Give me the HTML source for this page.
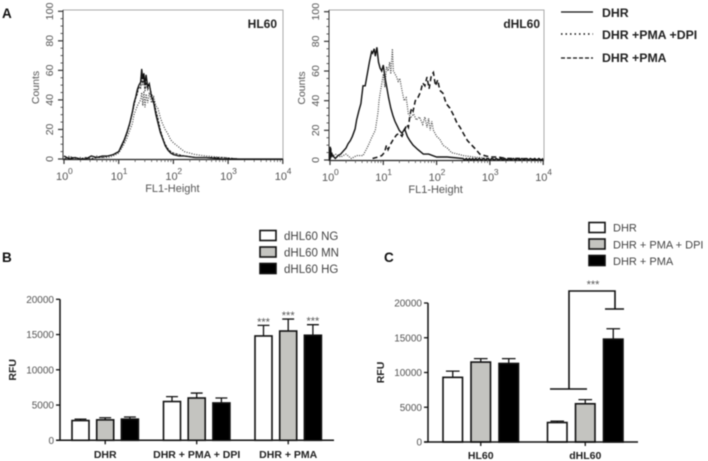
<!DOCTYPE html>
<html>
<head>
<meta charset="utf-8">
<style>
html,body{margin:0;padding:0;background:#fff;width:708px;height:461px;overflow:hidden}
svg{display:block;filter:blur(0.45px)}
text{font-family:"Liberation Sans",sans-serif}
.tick{font-size:10px;fill:#555}
.lab{font-size:10.5px;font-weight:bold;fill:#222}
.leg{font-size:11.5px;fill:#444}
.pan{font-size:13.5px;font-weight:bold;fill:#111}
</style>
</head>
<body>
<svg id="fig" width="708" height="461" viewBox="0 0 708 461" xmlns="http://www.w3.org/2000/svg">
<text class="pan" x="2" y="18">A</text>
<text class="pan" x="2" y="262">B</text>
<text class="pan" x="384" y="262">C</text>
<g>
<line x1="561" x2="593" y1="12" y2="12" stroke="#111" stroke-width="1.2"/>
<text x="602" y="17" font-size="12.3" font-weight="bold" fill="#222">DHR</text>
<line x1="561" x2="593" y1="34" y2="34" stroke="#111" stroke-width="1.4" stroke-dasharray="1.5 3"/>
<text x="602" y="39" font-size="12.3" font-weight="bold" fill="#222">DHR +PMA +DPI</text>
<line x1="561" x2="593" y1="58" y2="58" stroke="#111" stroke-width="1.2" stroke-dasharray="4 2"/>
<text x="602" y="62" font-size="12.3" font-weight="bold" fill="#222">DHR +PMA</text>
</g>
<g>
<rect x="260" y="230.5" width="16" height="10" fill="#fff" stroke="#111" stroke-width="1.6"/>
<text class="leg" x="284" y="240">dHL60 NG</text>
<rect x="260" y="247" width="16" height="10" fill="#c4c4c0" stroke="#111" stroke-width="1.6"/>
<text class="leg" x="284" y="256.500">dHL60 MN</text>
<rect x="260" y="263.500" width="16" height="10" fill="#000" stroke="#111" stroke-width="1.6"/>
<text class="leg" x="284" y="273">dHL60 HG</text>
</g>
<g>
<rect x="589" y="222.500" width="16" height="10" fill="#fff" stroke="#111" stroke-width="1.6"/>
<text x="613" y="231.500" font-size="11" fill="#444">DHR</text>
<rect x="589" y="239" width="16" height="10" fill="#c4c4c0" stroke="#111" stroke-width="1.6"/>
<text x="613" y="248.500" font-size="11" fill="#444">DHR + PMA + DPI</text>
<rect x="589" y="255.500" width="16" height="10" fill="#000" stroke="#111" stroke-width="1.6"/>
<text x="613" y="265" font-size="11" fill="#444">DHR + PMA</text>
</g>
<g>
<path d="M550 389H587M569 389V291H615V309M605 309H624" fill="none" stroke="#111" stroke-width="1.6"/>
<text x="593" y="288" font-size="11" fill="#555" text-anchor="middle">***</text>
</g>
<script>
var hl60Fl      = [0,0.1,0.2,0.3,0.4,0.5,0.6,0.7,0.8,0.9,1.0,1.05,1.1,1.15,1.2,1.25,1.28,1.31,1.34,1.37,1.4,1.42,1.44,1.46,1.48,1.5,1.53,1.56,1.6,1.64,1.68,1.72,1.76,1.8,1.85,1.9,1.95,2.0,2.1,2.2,2.4,2.6,2.9,3.2,3.6,4.0];
var hl60Dhr     = [2,0,1,0,0,2,1,2,2,3,5,9,13,18,24,32,38,42,47,50,52,61,54,58,50,57,49,51,42,38,30,24,18,14,9,6,4,3,2,2,1,1,0,0,0,0];
var hl60Dpi     = [0,2,0,1,0,0,2,1,1,2,4,7,10,14,19,24,30,33,36,38,40,45,36,46,35,44,38,45,38,42,36,34,28,24,20,17,13,11,8,5,3,2,1,0,0,0];
var hl60Pma     = [0,1,1,0,1,0,1,1,2,3,5,8,12,17,23,31,36,41,44,49,48,56,50,55,46,52,47,50,44,40,33,27,20,15,10,7,5,4,3,2,1,1,1,0,0,0];
var dhl60DhrFl  = [0,0.005,0.01,0.015,0.02,0.03,0.05,0.1,0.15,0.2,0.25,0.3,0.34,0.38,0.42,0.47,0.5,0.54,0.58,0.62,0.66,0.7,0.74,0.78,0.8,0.83,0.85,0.88,0.91,0.94,0.97,1.0,1.03,1.06,1.1,1.14,1.18,1.22,1.26,1.3,1.35,1.4,1.45,1.5,1.56,1.65,1.75,1.85,2.0,2.2,2.5,2.52,2.56,2.58,2.62,2.64,2.68,2.7,2.74,2.76,2.8,2.84,2.88,2.92,2.96,3.0,3.04,3.08,3.12,3.16,3.2,3.24,3.28,3.32,3.36,3.4,3.44,3.48,3.52,3.56,3.6,3.64,3.68,3.72,3.76,3.8,3.84,3.88,3.92,3.96,4.0];
var dhl60Dhr    = [0,9,1,8,2,5,3,1,3,4,6,8,11,13,16,21,27,33,38,50,50,58,66,73,72,75,70,76,66,62,60,64,56,50,42,35,30,26,23,20,18,21,16,13,10,7,4,4,2,2,1,0,1,0,1,0,1,0,1,0,1,0,1,0,1,0,1,0,1,0,1,0,1,0,1,0,1,0,1,0,1,0,1,0,1,0,1,0,1,0,1];
var dhl60DpiFl  = [0,0.1,0.2,0.3,0.4,0.5,0.62,0.68,0.72,0.78,0.85,0.9,0.92,0.95,0.97,1.0,1.03,1.06,1.09,1.12,1.14,1.17,1.19,1.22,1.25,1.28,1.31,1.35,1.39,1.43,1.47,1.52,1.57,1.62,1.68,1.74,1.78,1.82,1.85,1.88,1.91,1.94,2.0,2.06,2.12,2.2,2.28,2.4,2.5,2.7,3.0,3.4];
var dhl60Dpi    = [1,4,2,4,1,3,3,7,10,15,20,32,40,47,51,58,49,63,60,66,58,75,60,58,56,53,55,47,40,42,31,29,31,27,29,24,29,22,28,20,26,20,16,14,10,8,5,4,3,2,1,0];
var dhl60PmaFl  = [0.8,0.9,0.97,1.02,1.06,1.09,1.14,1.19,1.25,1.3,1.35,1.4,1.44,1.47,1.5,1.53,1.56,1.6,1.65,1.7,1.74,1.78,1.82,1.86,1.9,1.94,1.98,2.02,2.06,2.12,2.18,2.25,2.32,2.38,2.44,2.5,2.58,2.66,2.74,2.81,2.9,3.0,3.15,3.3,3.6,4.0];
var dhl60Pma    = [1,2,3,5,10,7,11,14,17,18,16,20,24,22,30,35,33,40,42,46,52,50,56,48,57,59,50,54,47,45,38,35,30,25,22,18,13,10,7,4,3,2,2,1,1,0];
var histYTicks  = [0,20,40,60,80,100];
var histXTicks  = [0,1,2,3,4];

var barBGroups  = ['DHR','DHR + PMA + DPI','DHR + PMA'];
var barBNG      = [2800,5500,14800];
var barBNGTop   = [3000,6200,16300];
var barBMN      = [2900,6000,15500];
var barBMNTop   = [3200,6700,17200];
var barBHG      = [3000,5300,14900];
var barBHGTop   = [3300,6000,16400];
var barBStars   = [false,false,true];
var barCGroups  = ['HL60','dHL60'];
var barCDhr     = [9300,2800];
var barCDhrTop  = [10200,3000];
var barCDpi     = [11500,5500];
var barCDpiTop  = [12000,6100];
var barCPma     = [11300,14800];
var barCPmaTop  = [12000,16300];
var barYTicks   = [0,5000,10000,15000,20000];

var NS = 'http://www.w3.org/2000/svg';
var fig = document.getElementById('fig');
function mk(parent, tag, attrs, txt) {
  var el = document.createElementNS(NS, tag);
  for (var k in attrs) el.setAttribute(k, attrs[k]);
  if (txt !== undefined) el.textContent = txt;
  parent.appendChild(el);
  return el;
}
function drawHist(o) {
  var x = function (v) { return o.x0 + v * o.dec; };
  var y = function (v) { return o.y0 - v * (o.y0 - o.y100) / 100; };
  var g = mk(fig, 'g', {});
  
  
  var frame = mk(g, 'path', {d: 'M' + o.l + ' ' + o.top + 'H' + o.r + 'V' + o.y0, fill: 'none', stroke: '#aaa', 'stroke-width': 1});
  
  
  var yAxis = mk(g, 'line', {x1: o.l, x2: o.l, y1: o.top, y2: o.y0 + 1, stroke: '#333', 'stroke-width': 1});
  
  
  var xAxis = mk(g, 'line', {x1: o.l, x2: o.r, y1: o.y0 + 0.5, y2: o.y0 + 0.5, stroke: '#222', 'stroke-width': 1.2});
  
  
  for (var v = 0; v <= 100; v += 5) {
    var major = v % 20 === 0;
    var yt = mk(g, 'line', {x1: o.l - (major ? 5 : 2.5), x2: o.l, y1: y(v), y2: y(v), stroke: '#333', 'stroke-width': major ? 1.2 : 0.8});
    
    
  }
  histYTicks.forEach(function (v) {
    var yy = y(v), xx = o.l - 10;
    var t = mk(g, 'text', {class: 'tick', x: xx, y: yy, 'text-anchor': 'middle', transform: 'rotate(-90 ' + xx + ' ' + yy + ')', style: 'font-size:10.5px'}, String(v));
    
    
  });
  histXTicks.forEach(function (d) {
    var xt = mk(g, 'line', {x1: x(d), x2: x(d), y1: o.y0, y2: o.y0 + 5, stroke: '#333', 'stroke-width': 1.2});
    
    
    if (d < 4) for (var m = 2; m < 10; m++) {
      var mt = mk(g, 'line', {x1: x(d + Math.log10(m)), x2: x(d + Math.log10(m)), y1: o.y0, y2: o.y0 + 3, stroke: '#444', 'stroke-width': 0.7});
      
      
    }
    var lab = mk(g, 'text', {class: 'tick', x: x(d) - 8, y: o.y0 + 21, style: 'font-size:11px'}, '10');
    
    
    var ex = mk(g, 'text', {class: 'tick', x: x(d) + 4, y: o.y0 + 15, style: 'font-size:8.5px'}, String(d));
    
    
  });
  var xt = mk(g, 'text', {class: 'tick', x: x(2) - 1, y: o.y0 + 33, 'text-anchor': 'middle', style: 'font-size:11px'}, 'FL1-Height');
  
  
  var cx = o.l - 24, cy = (o.y0 + o.top) / 2 + 3;
  var yTitle = mk(g, 'text', {class: 'tick', x: cx, y: cy, 'text-anchor': 'middle', transform: 'rotate(-90 ' + cx + ' ' + cy + ')', style: 'font-size:10.5px'}, 'Counts');
  
  
  var ttl = mk(g, 'text', {x: o.tr, y: 28, 'text-anchor': 'end', 'font-size': 12, 'font-weight': 'bold', fill: '#222'}, o.title);
  
  
  o.series.forEach(function (s) {
    var pts = s.fl.map(function (f, i) { return x(f).toFixed(1) + ',' + y(s.v[i]).toFixed(1); }).join(' ');
    var p = mk(g, 'polyline', {points: pts, fill: 'none', stroke: s.c, 'stroke-width': s.w, 'stroke-dasharray': s.d || 'none'});
    
    
  });
}
drawHist({name: 'histogram-hl60', title: 'HL60', tr: 277, l: 63, r: 283, top: 10, y0: 159, y100: 11.300, x0: 64, dec: 54.7,
  series: [
    {name: 'series-dhr-pma-dpi', fl: hl60Fl, v: hl60Dpi, c: '#333', w: 1.1, d: '1 1.5'},
    {name: 'series-dhr-pma', fl: hl60Fl, v: hl60Pma, c: '#222', w: 1, d: '2.5 1'},
    {name: 'series-dhr', fl: hl60Fl, v: hl60Dhr, c: '#111', w: 1.3}
  ]});
drawHist({name: 'histogram-dhl60', title: 'dHL60', tr: 540, l: 329, r: 544, top: 10, y0: 160, y100: 11.700, x0: 330, dec: 53.3,
  series: [
    {name: 'series-dhr-pma-dpi', fl: dhl60DpiFl, v: dhl60Dpi, c: '#333', w: 1.1, d: '1 1.3'},
    {name: 'series-dhr-pma', fl: dhl60PmaFl, v: dhl60Pma, c: '#111', w: 1.5, d: '5 3'},
    {name: 'series-dhr', fl: dhl60DhrFl, v: dhl60Dhr, c: '#111', w: 1.4}
  ]});

function drawBars(o) {
  var y = function (v) { return o.y0 - v * (o.y0 - o.y20k) / 20000; };
  var x = function (g, s) { return o.x0 + g * o.gStep + s * o.sStep; };
  var g = mk(fig, 'g', {});
  
  
  o.series.forEach(function (s, si) {
    s.v.forEach(function (val, gi) {
      var bx = x(gi, si), mid = bx + o.bw / 2;
      var e = mk(g, 'path', {d: 'M' + mid + ' ' + y(val) + 'V' + y(s.top[gi]) + 'M' + (mid - o.bw * 0.35) + ' ' + y(s.top[gi]) + 'H' + (mid + o.bw * 0.35), stroke: '#111', 'stroke-width': 1.3, fill: 'none'});
      
      
      var r = mk(g, 'rect', {x: bx, y: y(val), width: o.bw, height: o.y0 - y(val), fill: s.fill, stroke: '#111', 'stroke-width': 1.6});
      
      
      if (o.stars && o.stars[gi]) {
        var st = mk(g, 'text', {x: mid, y: y(s.top[gi]), 'text-anchor': 'middle', 'font-size': 11, fill: '#555'}, '***');
        
        
      }
    });
  });
  var ax = mk(g, 'path', {d: 'M' + o.l + ' ' + y(20000) + 'V' + o.y0 + 'M' + (o.l - 4) + ' ' + o.y0 + 'H' + o.r, stroke: '#111', 'stroke-width': 1.5, fill: 'none'});
  
  
  barYTicks.forEach(function (v) {
    var tk = mk(g, 'line', {x1: o.l - 4, x2: o.l, y1: y(v), y2: y(v), stroke: '#111', 'stroke-width': 1.3});
    
    
    var tl = mk(g, 'text', {class: 'tick', x: o.l - 6, y: y(v) + 3.500, 'text-anchor': 'end'}, String(v));
    
    
  });
  o.groups.forEach(function (name, gi) {
    var mid = x(gi, 1) + o.bw / 2;
    var tk = mk(g, 'line', {x1: mid, x2: mid, y1: o.y0, y2: o.y0 + 4, stroke: '#111', 'stroke-width': 1.3});
    
    
    var tl = mk(g, 'text', {class: 'lab', x: mid, y: o.labY, 'text-anchor': 'middle'}, name);
    
    
  });
  var cy = (o.y0 + y(20000)) / 2;
  var t = mk(g, 'text', {class: 'lab', x: o.titleX, y: cy, 'text-anchor': 'middle', transform: 'rotate(-90 ' + o.titleX + ' ' + cy + ')'}, 'RFU');
  
  
}
drawBars({name: 'bar-chart-b', l: 60, r: 334, y0: 440.300, y20k: 299.300, x0: 72, gStep: 91.500, sStep: 24.700, bw: 17, labY: 458, titleX: 16, groups: barBGroups, stars: barBStars,
  series: [
    {v: barBNG, top: barBNGTop, fill: '#fff'},
    {v: barBMN, top: barBMNTop, fill: '#c4c4c0'},
    {v: barBHG, top: barBHGTop, fill: '#000'}
  ]});
drawBars({name: 'bar-chart-c', l: 428, r: 638, y0: 442, y20k: 303, x0: 443, gStep: 104.500, sStep: 28, bw: 19.500, labY: 459, titleX: 384, groups: barCGroups,
  series: [
    {v: barCDhr, top: barCDhrTop, fill: '#fff'},
    {v: barCDpi, top: barCDpiTop, fill: '#c4c4c0'},
    {v: barCPma, top: barCPmaTop, fill: '#000'}
  ]});
</script>
</svg>
</body>
</html>
